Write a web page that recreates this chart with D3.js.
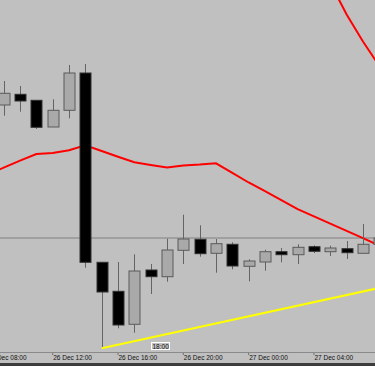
<!DOCTYPE html>
<html>
<head>
<meta charset="utf-8">
<script src="https://cdn.jsdelivr.net/npm/d3@7"></script>
<style>
  body { margin: 0; background: #c0c0c0; }
  svg { display: block; }
</style>
</head>
<body>
<div id="chart"></div>
<script>
var width = 375, height = 366, plotBottom = 352;

// hourly bars, 26 Dec 09:00 .. 27 Dec 08:00
var times = ["2016-12-26 09:00","2016-12-26 10:00","2016-12-26 11:00","2016-12-26 12:00",
  "2016-12-26 13:00","2016-12-26 14:00","2016-12-26 15:00","2016-12-26 16:00",
  "2016-12-26 17:00","2016-12-26 18:00","2016-12-26 19:00","2016-12-26 20:00",
  "2016-12-26 21:00","2016-12-26 22:00","2016-12-26 23:00","2016-12-27 00:00",
  "2016-12-27 01:00","2016-12-27 02:00","2016-12-27 03:00","2016-12-27 04:00",
  "2016-12-27 05:00","2016-12-27 06:00","2016-12-27 07:00","2016-12-27 08:00"];
var open  = [1.08950,1.09057,1.08997,1.08730,1.08897,1.09270,1.07377,1.07087,1.06757,1.07300,1.07233,1.07497,
             1.07607,1.07467,1.07557,1.07337,1.07380,1.07483,1.07453,1.07533,1.07483,1.07513,1.07467,1.07557];
var high  = [1.09190,1.09140,1.09000,1.09007,1.09350,1.09360,1.07380,1.07380,1.07457,1.07360,1.07613,1.07853,
             1.07747,1.07610,1.07577,1.07407,1.07503,1.07520,1.07557,1.07547,1.07543,1.07590,1.07760,1.07640];
var low   = [1.08843,1.08883,1.08710,1.08730,1.08817,1.07323,1.06517,1.06717,1.06673,1.07060,1.07183,1.07360,
             1.07433,1.07273,1.07307,1.07187,1.07293,1.07377,1.07360,1.07470,1.07440,1.07410,1.07467,1.07550];
var close = [1.09067,1.08990,1.08727,1.08897,1.09270,1.07377,1.07080,1.06750,1.07290,1.07233,1.07500,1.07610,
             1.07463,1.07563,1.07340,1.07390,1.07483,1.07453,1.07527,1.07487,1.07520,1.07473,1.07557,1.07620];

// moving average (red), starts one bar earlier
var maTimes = ["2016-12-26 08:00"].concat(times);
var maValues = [1.08254,1.08323,1.08394,1.08460,1.08470,1.08498,1.08547,1.08490,1.08432,1.08378,1.08350,1.08324,
                1.08345,1.08354,1.08367,1.08272,1.08175,1.08088,1.07998,1.07908,1.07836,1.07763,1.07691,1.07618,1.07545];

// second red line, top right
var upperTimes = ["2016-12-27 05:00","2016-12-27 06:00","2016-12-27 07:00","2016-12-27 08:00"];
var upperValues = [1.10170,1.09855,1.09585,1.09340];

// yellow trend line (ray)
var trendTimes = ["2016-12-26 15:00","2016-12-27 07:00"];
var trendValues = [1.06517,1.07085];

var bidPrice = 1.07620;
var tickTimes = ["2016-12-26 08:00","2016-12-26 12:00","2016-12-26 16:00","2016-12-26 20:00",
                 "2016-12-27 00:00","2016-12-27 04:00"];
var markerTime = "2016-12-26 18:00", markerLabel = "18:00";

var parse = d3.utcParse("%Y-%m-%d %H:%M");
var bars = times.map(function(t, i) {
  return {t: parse(t), o: open[i], h: high[i], l: low[i], c: close[i]};
});

var x = d3.scaleUtc()
  .domain([parse(times[0]), parse(times[times.length - 1])])
  .range([3.7, 3.7 + 23 * 16.33]);
var y = d3.scaleLinear()
  .domain([1.1000, 1.1000 - plotBottom / 10000])
  .range([0, plotBottom]);

var step = x(parse(times[1])) - x(parse(times[0]));
var bodyW = Math.round(step * 0.68);

var svg = d3.select("#chart")
  .append("svg")
  .attr("width", width)
  .attr("height", height);

svg.append("rect")
  .attr("width", width)
  .attr("height", height)
  .attr("fill", "#c0c0c0");

svg.append("clipPath")
  .attr("id", "plot")
  .append("rect")
  .attr("width", width)
  .attr("height", plotBottom);

var plot = svg.append("g").attr("clip-path", "url(#plot)");

// bid line
plot.append("line")
  .attr("x1", 0).attr("x2", width)
  .attr("y1", y(bidPrice)).attr("y2", y(bidPrice))
  .attr("stroke", "#a0a0a0")
  .attr("stroke-width", 2);

// moving average
var line = d3.line()
  .x(function(d) { return x(d[0]); })
  .y(function(d) { return y(d[1]); });

plot.append("path")
  .datum(maTimes.map(function(t, i) { return [parse(t), maValues[i]]; }))
  .attr("d", line)
  .attr("fill", "none")
  .attr("stroke", "#ff0000")
  .attr("stroke-width", 2);

plot.append("path")
  .datum(upperTimes.map(function(t, i) { return [parse(t), upperValues[i]]; }))
  .attr("d", line)
  .attr("fill", "none")
  .attr("stroke", "#ff0000")
  .attr("stroke-width", 2);

// candles
var candle = plot.selectAll(".candle")
  .data(bars)
  .enter().append("g")
  .attr("class", "candle");

candle.append("line")
  .attr("x1", function(d) { return Math.round(x(d.t)) + 0.5; })
  .attr("x2", function(d) { return Math.round(x(d.t)) + 0.5; })
  .attr("y1", function(d) { return y(d.h); })
  .attr("y2", function(d) { return y(d.l); })
  .attr("stroke", "#646464")
  .attr("stroke-width", 1);

candle.append("rect")
  .attr("x", function(d) { return Math.round(x(d.t)) - bodyW / 2 + 0.5; })
  .attr("y", function(d) { return y(Math.max(d.o, d.c)); })
  .attr("width", bodyW)
  .attr("height", function(d) { return Math.max(1, Math.abs(y(d.o) - y(d.c))); })
  .attr("fill", function(d) { return d.c >= d.o ? "#a9a9a9" : "#000000"; })
  .attr("stroke", function(d) { return d.c >= d.o ? "#5a5a5a" : "#303030"; })
  .attr("stroke-width", 1);

// trend line, extended to the right edge
var t0 = parse(trendTimes[0]), t1 = parse(trendTimes[1]);
var slope = (y(trendValues[1]) - y(trendValues[0])) / (x(t1) - x(t0));
plot.append("line")
  .attr("x1", x(t0))
  .attr("y1", y(trendValues[0]))
  .attr("x2", width + 5)
  .attr("y2", y(trendValues[0]) + slope * (width + 5 - x(t0)))
  .attr("stroke", "#ffff00")
  .attr("stroke-width", 2);

// time axis
var xAxis = svg.append("g")
  .attr("transform", "translate(0," + plotBottom + ")")
  .call(d3.axisBottom(x)
    .tickValues(tickTimes.map(parse))
    .tickFormat(d3.utcFormat("%d %b %H:%M"))
    .tickSize(3)
    .tickPadding(0));
xAxis.select(".domain").remove();
xAxis.selectAll(".tick line")
  .attr("stroke", "#707070")
  .attr("transform", "translate(-0.5,0)");
xAxis.selectAll(".tick text")
  .attr("text-anchor", "start")
  .attr("x", 0)
  .attr("y", 3)
  .style("font-family", "Liberation Sans, Arial, sans-serif")
  .style("font-size", "6.5px")
  .attr("fill", "#111");

svg.append("line")
  .attr("x1", 0).attr("x2", width)
  .attr("y1", plotBottom + 0.5).attr("y2", plotBottom + 0.5)
  .attr("stroke", "#8a8a8a")
  .attr("stroke-width", 1);

svg.append("rect")
  .attr("x", 0).attr("y", 363)
  .attr("width", width).attr("height", 3)
  .attr("fill", "#3c3c3c");

// time marker label
var mx = Math.round(x(parse(markerTime)));
svg.append("rect")
  .attr("x", mx + 0.5).attr("y", plotBottom - 9.5)
  .attr("width", 18).attr("height", 7)
  .attr("fill", "none")
  .attr("stroke", "#ffffff")
  .attr("stroke-width", 1);
svg.append("text")
  .attr("x", mx + 1.5)
  .attr("y", plotBottom - 3.5)
  .style("font-family", "Liberation Sans, Arial, sans-serif")
  .style("font-size", "6.5px")
  .attr("fill", "#111")
  .text(markerLabel);
</script>
</body>
</html>
